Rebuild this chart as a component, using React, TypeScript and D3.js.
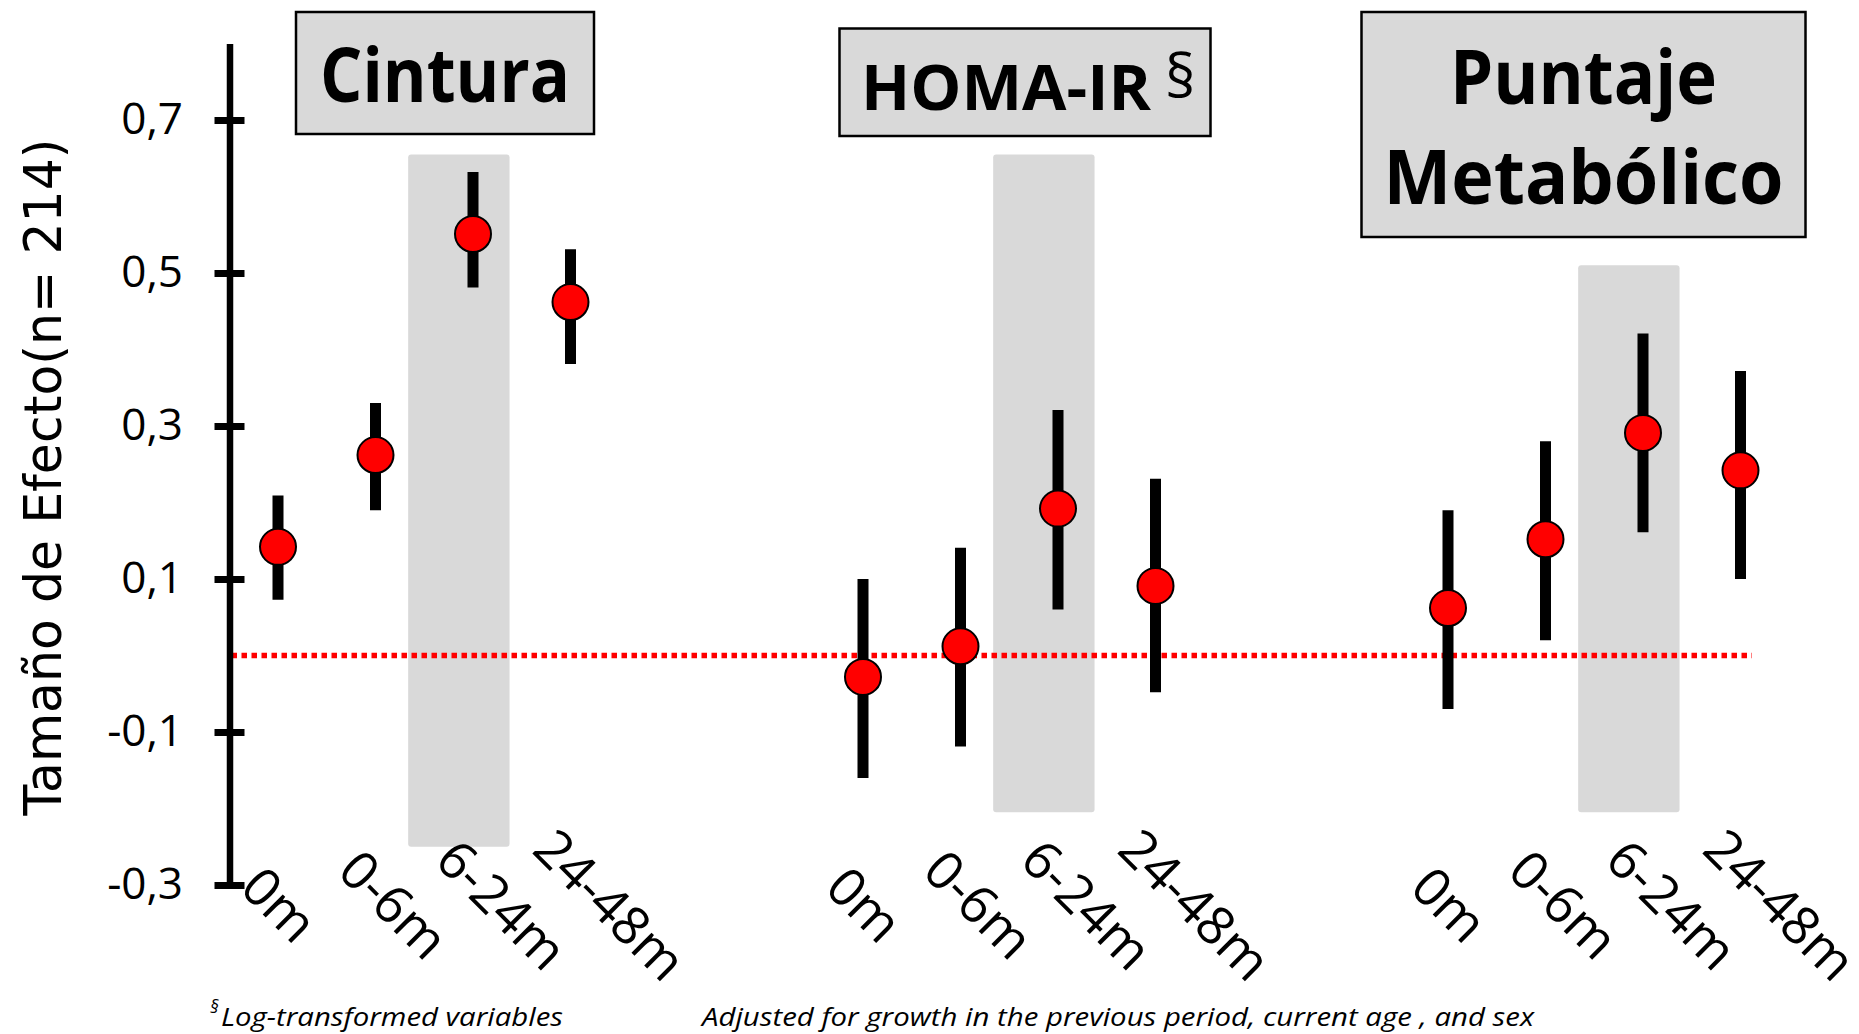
import React, { useRef, useEffect } from 'react';
import * as d3 from 'd3';

// categories
const periods = ['0m', '0-6m', '6-24m', '24-48m'];
const outcomes = ['Cintura', 'HOMA-IR', 'Puntaje Metabólico'];

// effect sizes with confidence limits, per outcome
const cinturaEst = [0.142, 0.262, 0.551, 0.462];
const cinturaLow = [0.073, 0.19, 0.481, 0.381];
const cinturaHigh = [0.209, 0.33, 0.632, 0.531];

const homaEst = [-0.028, 0.012, 0.192, 0.091];
const homaLow = [-0.16, -0.119, 0.06, -0.048];
const homaHigh = [0.1, 0.141, 0.321, 0.231];

const puntajeEst = [0.062, 0.152, 0.291, 0.242];
const puntajeLow = [-0.07, 0.02, 0.161, 0.1];
const puntajeHigh = [0.19, 0.28, 0.421, 0.372];

const yTicks = [-0.3, -0.1, 0.1, 0.3, 0.5, 0.7];

// shaded 6-24m column behind each outcome (value range)
const shadeLow = [-0.25, -0.205, -0.205];
const shadeHigh = [0.655, 0.655, 0.51];

const W = 1859;
const H = 1034;

const App: React.FC = () => {
    const svgRef = useRef<SVGSVGElement | null>(null);

    useEffect(() => {
        if (!svgRef.current) return;
        const svg = d3.select(svgRef.current);
        svg.selectAll('*').remove();

        const ests = [cinturaEst, homaEst, puntajeEst];
        const lows = [cinturaLow, homaLow, puntajeLow];
        const highs = [cinturaHigh, homaHigh, puntajeHigh];

        const axisX = 229.5;
        const y = d3.scaleLinear().domain([-0.3, 0.8]).range([885, 43.5]);
        // each outcome takes 4 slots, with 2 empty slots between outcomes
        const x = d3.scaleLinear().domain([0, 15]).range([278, 1740.5]);
        const step = x(1) - x(0);
        const slot = (g: number, i: number) => x(g * 6 + i);

        const sans = "'Open Sans', sans-serif";

        // shaded columns
        outcomes.forEach((_, g) => {
            const cx = slot(g, 2);
            svg.append('rect')
                .attr('x', cx - 0.665 * step)
                .attr('width', 1.04 * step)
                .attr('y', y(shadeHigh[g]))
                .attr('height', y(shadeLow[g]) - y(shadeHigh[g]))
                .attr('rx', 3)
                .attr('fill', '#d9d9d9');
        });

        // zero reference line
        svg.append('line')
            .attr('x1', axisX + 2)
            .attr('x2', 1752)
            .attr('y1', y(0))
            .attr('y2', y(0))
            .attr('stroke', '#ff0000')
            .attr('stroke-width', 5.5)
            .attr('stroke-dasharray', '5.5 4.5');

        // y axis
        const loc = d3.formatLocale({ decimal: ',', thousands: '.', grouping: [3], currency: ['', ''], minus: '-' });
        const fmt = loc.format('.1f');
        const yAxis = svg.append('g')
            .attr('transform', `translate(${axisX},0)`)
            .call(d3.axisLeft(y).tickValues(yTicks).tickFormat(d => fmt(d as number)).tickSizeInner(15).tickSizeOuter(0).tickPadding(31.5));
        yAxis.select('.domain').attr('stroke', '#000').attr('stroke-width', 6.5);
        yAxis.selectAll('.tick line').attr('x1', 15).attr('x2', -15).attr('stroke', '#000').attr('stroke-width', 7);
        yAxis.selectAll('.tick text')
            .attr('font-family', sans)
            .attr('font-size', 44)
            .attr('fill', '#000')
            .attr('dy', 13);

        // y title
        svg.append('text')
            .attr('transform', `translate(61,477) rotate(-90)`)
            .attr('text-anchor', 'middle')
            .attr('font-family', "'DejaVu Sans', sans-serif")
            .attr('font-size', 52)
            .attr('textLength', 677)
            .attr('lengthAdjust', 'spacingAndGlyphs')
            .text('Tamaño de Efecto(n= 214)');

        // error bars and points
        outcomes.forEach((_, g) => {
            periods.forEach((p, i) => {
                const cx = slot(g, i);
                svg.append('line')
                    .attr('x1', cx).attr('x2', cx)
                    .attr('y1', y(lows[g][i]))
                    .attr('y2', y(highs[g][i]))
                    .attr('stroke', '#000')
                    .attr('stroke-width', 11);
                svg.append('circle')
                    .attr('cx', cx)
                    .attr('cy', y(ests[g][i]))
                    .attr('r', 18)
                    .attr('fill', '#ff0000')
                    .attr('stroke', '#000')
                    .attr('stroke-width', 2);

                // rotated category label
                const t = svg.append('text')
                    .attr('font-family', sans)
                    .attr('font-size', 53)
                    .attr('fill', '#000')
                    .text(p);
                const L = (t.node() as SVGTextElement).getComputedTextLength();
                const ax = cx - 40;
                const ay = 918 - 0.354 * L;
                t.attr('transform', `translate(${ax},${ay}) rotate(45)`);
            });
        });

        // title boxes
        const box = (x0: number, y0: number, x1: number, y1: number) =>
            svg.append('rect')
                .attr('x', x0).attr('y', y0)
                .attr('width', x1 - x0).attr('height', y1 - y0)
                .attr('fill', '#d9d9d9')
                .attr('stroke', '#000')
                .attr('stroke-width', 2.5);
        const bold = (tx: number, ty: number, s: string, size: number, len: number, anchor = 'middle') =>
            svg.append('text')
                .attr('x', tx).attr('y', ty)
                .attr('text-anchor', anchor)
                .attr('font-family', sans)
                .attr('font-weight', 'bold')
                .attr('font-size', size)
                .attr('textLength', len)
                .attr('lengthAdjust', 'spacingAndGlyphs')
                .text(s);

        box(296, 12, 594, 134);
        bold(445, 102, outcomes[0], 76, 250);

        box(839.5, 28.5, 1210.5, 136);
        bold(861, 110, outcomes[1], 62, 290, 'start');
        svg.append('text')
            .attr('x', 1165).attr('y', 98)
            .attr('font-family', sans)
            .attr('font-size', 60)
            .text('§');

        box(1361.5, 12, 1805.5, 237);
        const [w1, w2] = outcomes[2].split(' ');
        bold(1583.5, 104, w1, 76, 267);
        bold(1583.5, 204, w2, 76, 400);

        // footnotes
        svg.append('text')
            .attr('x', 210).attr('y', 1013)
            .attr('font-family', sans)
            .attr('font-style', 'italic')
            .attr('font-size', 18)
            .text('§');
        svg.append('text')
            .attr('x', 221).attr('y', 1026)
            .attr('font-family', sans)
            .attr('font-style', 'italic')
            .attr('font-size', 26)
            .attr('textLength', 342)
            .attr('lengthAdjust', 'spacingAndGlyphs')
            .text('Log-transformed variables');
        svg.append('text')
            .attr('x', 702).attr('y', 1026)
            .attr('font-family', sans)
            .attr('font-style', 'italic')
            .attr('font-size', 26)
            .attr('textLength', 832)
            .attr('lengthAdjust', 'spacingAndGlyphs')
            .text('Adjusted for growth in the previous period, current age , and sex');
    }, []);

    return (
        <svg
            ref={svgRef}
            width={W}
            height={H}
            style={{ position: 'absolute', left: 0, top: 0, background: '#fff', display: 'block' }}
        />
    );
};

export default App;
